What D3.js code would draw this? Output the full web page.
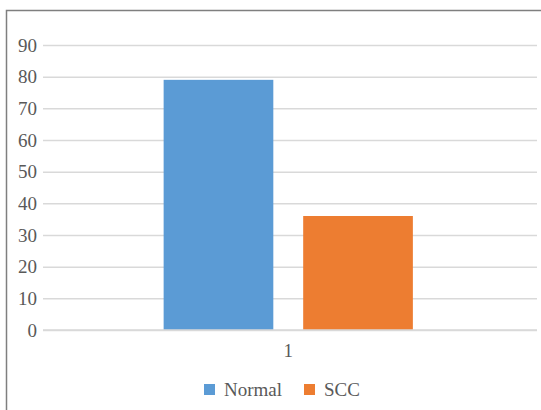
<!DOCTYPE html>
<html>
<head>
<meta charset="utf-8">
<script src="https://cdn.jsdelivr.net/npm/d3@7"></script>
<style>
  html, body { margin: 0; padding: 0; background: #fff; }
  svg { display: block; }
  svg text { font-family: "Liberation Serif", "DejaVu Serif", serif !important; }
</style>
</head>
<body>
<script>
// Chart data
const categories = ["1"];
const seriesNames = ["Normal", "SCC"];
const normalValues = [79];
const sccValues = [36];
const yTicks = [0, 10, 20, 30, 40, 50, 60, 70, 80, 90];
const seriesColors = ["#5B9BD5", "#ED7D31"];

const W = 541, H = 410;
const margin = { left: 43, right: 4, top: 45, bottom: 80 };
const plotW = W - margin.left - margin.right;
const plotH = H - margin.top - margin.bottom;

const svg = d3.select("body").append("svg")
  .attr("width", W).attr("height", H);

// Frame around the chart area
svg.append("path")
  .attr("d", `M6.5,${H + 2} L6.5,10.5 L${W + 2},10.5`)
  .attr("fill", "none")
  .attr("stroke", "#7f7f7f")
  .attr("stroke-width", 1.5);

const g = svg.append("g").attr("transform", `translate(${margin.left},${margin.top})`);

const y = d3.scaleLinear().domain([0, 90]).range([plotH, 0]);
const x0 = d3.scaleBand().domain(categories).range([0, plotW - 3.5]).paddingInner(0).paddingOuter(0.484);
const x1 = d3.scaleBand().domain(seriesNames).range([0, x0.bandwidth()]).paddingInner(0.214).paddingOuter(0);
const color = d3.scaleOrdinal().domain(seriesNames).range(seriesColors);

// Gridlines
const yAxis = d3.axisLeft(y).tickValues(yTicks).tickSize(-plotW).tickPadding(6);
const ya = g.append("g").call(yAxis);
ya.select(".domain").remove();
ya.selectAll(".tick line").attr("stroke", "#d9d9d9").attr("stroke-width", 1.5);
ya.selectAll(".tick text")
  .attr("fill", "#595959")
  .attr("font-size", 19);

// Bars
const rows = categories.map((c, i) => ({ cat: c, values: [normalValues[i], sccValues[i]] }));
const groups = g.selectAll(".grp").data(rows).join("g")
  .attr("class", "grp")
  .attr("transform", d => `translate(${x0(d.cat)},0)`);
groups.selectAll("rect")
  .data(d => d.values.map((v, j) => ({ name: seriesNames[j], value: v })))
  .join("rect")
  .attr("x", d => x1(d.name))
  .attr("width", x1.bandwidth())
  .attr("y", d => y(d.value))
  .attr("height", d => y(0) - y(d.value))
  .attr("fill", d => color(d.name));

// Category axis (baseline spans the full plot width)
const xa = g.append("g").attr("transform", `translate(0,${plotH})`)
  .call(d3.axisBottom(x0).tickSize(0).tickPadding(14));
xa.select(".domain").remove();
xa.append("line").attr("x1", 0).attr("x2", plotW)
  .attr("stroke", "#d9d9d9").attr("stroke-width", 1.5);
xa.selectAll(".tick text")
  .attr("fill", "#595959")
  .attr("font-size", 19);

// Legend
const legendItems = [
  { name: seriesNames[0], x: 204 },
  { name: seriesNames[1], x: 304 }
];
const lg = svg.append("g");
const li = lg.selectAll("g").data(legendItems).join("g")
  .attr("transform", d => `translate(${d.x},384)`);
li.append("rect").attr("width", 11).attr("height", 11).attr("fill", d => color(d.name));
li.append("text")
  .attr("x", 20).attr("y", 5.5).attr("dy", "0.35em")
  .attr("fill", "#595959")
  .attr("font-size", 19)
  .text(d => d.name);
</script>
</body>
</html>
